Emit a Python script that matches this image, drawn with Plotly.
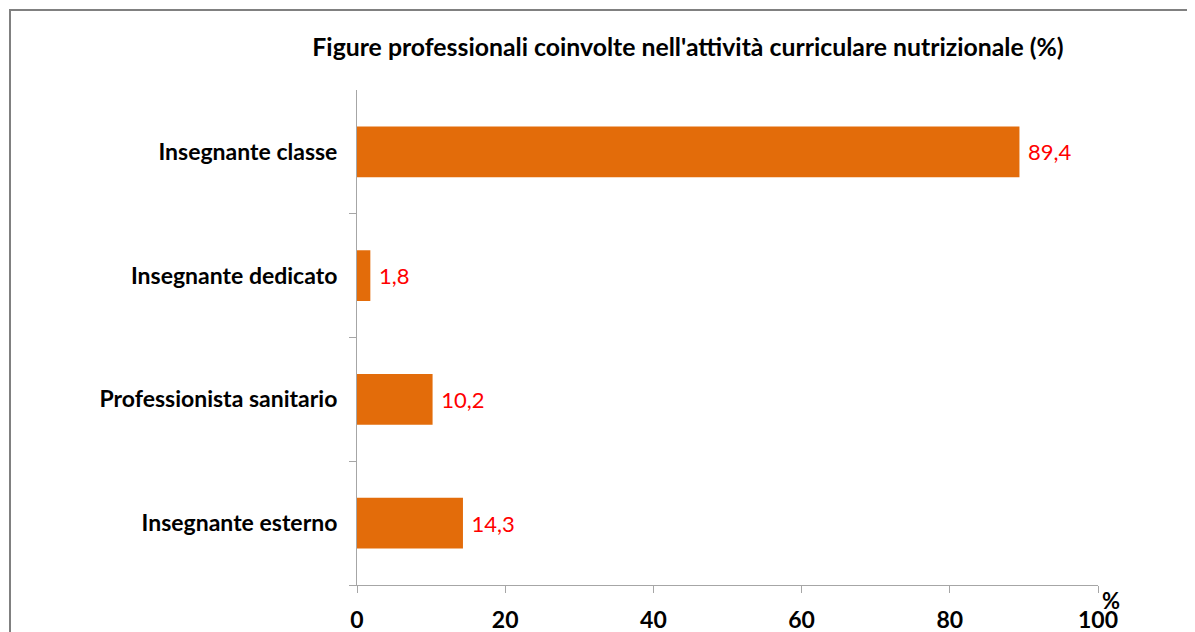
import plotly.graph_objects as go

categories = ["Insegnante classe", "Insegnante dedicato", "Professionista sanitario", "Insegnante esterno"]
values = [89.4, 1.8, 10.2, 14.3]
x_ticks = [0, 20, 40, 60, 80, 100]
title_text = "Figure professionali coinvolte nell'attività curriculare nutrizionale (%)"

# page is offset by the default 8px body margin
OFF = 8
W, H = 1195 - OFF, 632 - OFF
L, T = 357 - OFF, 90 - OFF
R = W - (1098 - OFF)
B = H - (585 - OFF)
pw, ph = W - L - R, H - T - B

fig = go.Figure(go.Bar(
    y=categories, x=values, orientation="h",
    marker=dict(color="#E36C0A", line=dict(width=0)),
    texttemplate=" %{x:.1f}", textposition="outside",
    textfont=dict(color="#FF0000", size=22, family="Lato"),
    cliponaxis=False,
))

fig.update_layout(
    width=W, height=H,
    margin=dict(l=L, r=R, t=T, b=B, autoexpand=False),
    paper_bgcolor="white", plot_bgcolor="white",
    separators=",.",
    bargap=0.59,
    showlegend=False,
    title=dict(text="<b>" + title_text + "</b>", x=(688 - OFF) / W, xanchor="center",
               y=1 - (47 - OFF) / H, yanchor="middle",
               font=dict(family="Lato", size=24.8, color="#000000")),
    font=dict(family="Lato", color="#000000"),
)
fig.update_xaxes(
    range=[0, 100], tickvals=x_ticks, ticktext=["<b>%d</b>" % v for v in x_ticks],
    showgrid=False, zeroline=False, showline=True, linecolor="#A6A6A6", linewidth=1,
    ticks="outside", ticklen=7, tickcolor="#A6A6A6",
    tickfont=dict(size=23, family="Lato", color="#000000"),
    ticklabelstandoff=7,
)
fig.update_yaxes(
    categoryorder="array", categoryarray=categories[::-1],
    ticktext=["<b>%s</b>" % c for c in categories], tickvals=categories,
    showgrid=False, zeroline=False, showline=True, linecolor="#A6A6A6", linewidth=1,
    ticks="outside", ticklen=7, tickcolor="#A6A6A6", tickson="boundaries",
    tickfont=dict(size=23, family="Lato", color="#000000"),
    ticklabelstandoff=14,
)
fig.add_annotation(
    text="<b>%</b>", xref="paper", yref="paper",
    x=(1111 - OFF - L) / pw, y=(H - B - (600 - OFF)) / ph, xanchor="center", yanchor="middle",
    showarrow=False, font=dict(size=22, family="Lato", color="#000000"),
)
fig.add_shape(
    type="rect", xref="paper", yref="paper",
    x0=(10 - OFF - L) / pw, x1=(W + 20 - L) / pw,
    y0=(H - B - (H + 20)) / ph, y1=(H - B - (10 - OFF)) / ph,
    line=dict(color="#808080", width=2), fillcolor="rgba(0,0,0,0)", layer="below",
)
fig.write_html("out.html")
